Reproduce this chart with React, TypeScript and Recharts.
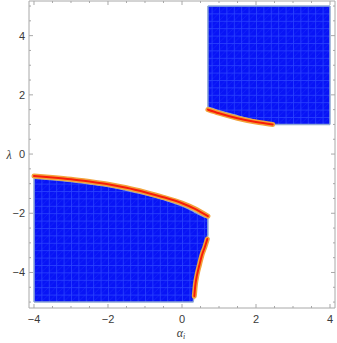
import React from 'react';
import { ComposedChart, Area, Line, XAxis, YAxis } from 'recharts';

// Upper-right region: alpha, lower boundary (upper boundary = 5)
const upperAlpha = [0.7, 1.0, 1.5, 2.0, 2.25, 2.5, 4.0];
const upperLow = [1.58, 1.46, 1.29, 1.13, 1.05, 1.0, 1.0];
const upperHigh = [5, 5, 5, 5, 5, 5, 5];

// Lower-left region: alpha, lower and upper boundary
const lowerAlpha = [-4, -3.5, -3, -2.5, -2, -1.5, -1, -0.5, 0, 0.3, 0.33, 0.37, 0.43, 0.5, 0.58, 0.65, 0.7];
const lowerLow = [-5, -5, -5, -5, -5, -5, -5, -5, -5, -5, -4.7, -4.35, -4.0, -3.68, -3.35, -3.02, -2.74];
const lowerHigh = [-0.82, -0.87, -0.93, -1.01, -1.1, -1.22, -1.37, -1.54, -1.75, -1.93, -1.95, -1.98, -2.02, -2.06, -2.11, -2.14, -2.17];

// Region outline segments (vertical edges)
const edgeAlpha = [0.7, 0.7, 4, 4, -4, -4, 0.7, 0.7];
const edgeLambda = [1.58, 5, 1.0, 5, -5, -0.82, -2.74, -2.17];

// Boundary curves (red/orange)
const curve1Alpha = [0.7, 1.0, 1.5, 2.0, 2.45];
const curve1Lambda = [1.5, 1.38, 1.21, 1.08, 1.0];
const curve2Alpha = [-4, -3.5, -3, -2.5, -2, -1.5, -1, -0.5, 0, 0.35, 0.7];
const curve2Lambda = [-0.74, -0.79, -0.85, -0.93, -1.02, -1.14, -1.29, -1.46, -1.66, -1.85, -2.1];
const curve3Alpha = [0.333, 0.36, 0.405, 0.47, 0.54, 0.62, 0.685];
const curve3Lambda = [-4.8, -4.43, -4.09, -3.75, -3.41, -3.13, -2.87];

const xTicks = [-4, -3.5, -3, -2.5, -2, -1.5, -1, -0.5, 0, 0.5, 1, 1.5, 2, 2.5, 3, 3.5, 4];
const yTicks = [-5, -4.5, -4, -3.5, -3, -2.5, -2, -1.5, -1, -0.5, 0, 0.5, 1, 1.5, 2, 2.5, 3, 3.5, 4, 4.5, 5];
const majorLabels = [-4, -2, 0, 2, 4];

const upperData = upperAlpha.map((a, i) => ({ a, r: [upperLow[i], upperHigh[i]] }));
const lowerData = lowerAlpha.map((a, i) => ({ a, r: [lowerLow[i], lowerHigh[i]] }));
const edges = [0, 1, 2, 3].map((k) => [
  { a: edgeAlpha[2 * k], v: edgeLambda[2 * k] },
  { a: edgeAlpha[2 * k + 1], v: edgeLambda[2 * k + 1] },
]);
const curve1 = curve1Alpha.map((a, i) => ({ a, v: curve1Lambda[i] }));
const curve2 = curve2Alpha.map((a, i) => ({ a, v: curve2Lambda[i] }));
const curve3 = curve3Alpha.map((a, i) => ({ a, v: curve3Lambda[i] }));

const FRAME = '#a8a8a8';
const LABEL = '#3a3a3a';
const FONT = 'Liberation Sans, Arial, sans-serif';
const EDGE = '#8ea8d4';

const fmt = (v: number) => (v < 0 ? '\u2212' + Math.abs(v) : String(v));
const isMajor = (v: number) => majorLabels.includes(v);

const BottomTick = (props: any) => {
  const { x, y, payload } = props;
  const v = payload.value;
  const major = isMajor(v);
  return (
    <g>
      <line x1={x} y1={y} x2={x} y2={y - (major ? 4 : 2)} stroke={FRAME} strokeWidth={1} />
      {major && (
        <text x={x} y={y + 15} textAnchor="middle" fontSize={11} fontFamily={FONT} fill={LABEL}>
          {fmt(v)}
        </text>
      )}
    </g>
  );
};
const TopTick = (props: any) => {
  const { x, y, payload } = props;
  const major = isMajor(payload.value);
  return <line x1={x} y1={y} x2={x} y2={y + (major ? 4 : 2)} stroke={FRAME} strokeWidth={1} />;
};
const LeftTick = (props: any) => {
  const { x, y, payload } = props;
  const v = payload.value;
  const major = isMajor(v);
  return (
    <g>
      <line x1={x} y1={y} x2={x + (major ? 4 : 2)} y2={y} stroke={FRAME} strokeWidth={1} />
      {major && (
        <text x={x - 4} y={y + 4} textAnchor="end" fontSize={11} fontFamily={FONT} fill={LABEL}>
          {fmt(v)}
        </text>
      )}
    </g>
  );
};
const RightTick = (props: any) => {
  const { x, y, payload } = props;
  const major = isMajor(payload.value);
  return <line x1={x} y1={y} x2={x - (major ? 4 : 2)} y2={y} stroke={FRAME} strokeWidth={1} />;
};

const XLabel = (props: any) => {
  const vb = props.viewBox || { x: 29, y: 308, width: 306, height: 35 };
  return (
    <text x={vb.x + vb.width / 2 - 1} y={vb.y + 29} textAnchor="middle" fontSize={12} fontFamily="Liberation Serif, serif" fontStyle="italic" fill={LABEL}>
      α<tspan fontSize={8} dy={2}>i</tspan>
    </text>
  );
};
const YLabel = (props: any) => {
  const vb = props.viewBox || { x: 0, y: 1, width: 29, height: 307 };
  return (
    <text x={9} y={vb.y + vb.height / 2 + 4} textAnchor="middle" fontSize={12} fontFamily="Liberation Serif, serif" fontStyle="italic" fill={LABEL}>
      λ
    </text>
  );
};

export default function App() {
  const curves = [curve1, curve2, curve3];
  return (
    <div style={{ position: 'absolute', left: 0, top: 0, background: '#fff' }}>
      <ComposedChart width={337} height={343} margin={{ top: 0, right: 1, bottom: 0, left: 0 }}>
        <defs>
          <pattern id="mesh" patternUnits="userSpaceOnUse" x={34} y={6} width={7.4} height={7.4}>
            <rect x={0} y={0} width={7.4} height={7.4} fill="#0814f6" />
            <path d="M0 0.4 H7.4 M0.4 0 V7.4" stroke="#3552ff" strokeWidth={0.9} opacity={0.7} />
            <path d="M0 7.4 L7.4 0" stroke="#2a44ff" strokeWidth={0.6} opacity={0.45} />
          </pattern>
        </defs>
        <XAxis
          xAxisId="b"
          dataKey="a"
          type="number"
          orientation="bottom"
          domain={[-4.135, 4.135]}
          allowDataOverflow
          ticks={xTicks}
          interval={0}
          height={35}
          tickSize={0}
          tickMargin={0}
          tickLine={false}
          axisLine={{ stroke: FRAME }}
          tick={<BottomTick />}
          label={{ content: <XLabel /> } as any}
        />
        <XAxis
          xAxisId="t"
          dataKey="a"
          type="number"
          orientation="top"
          domain={[-4.135, 4.135]}
          allowDataOverflow
          ticks={xTicks}
          interval={0}
          height={1}
          tickSize={0}
          tickMargin={0}
          tickLine={false}
          axisLine={{ stroke: FRAME }}
          tick={<TopTick />}
        />
        <YAxis
          yAxisId="l"
          type="number"
          orientation="left"
          domain={[-5.2, 5.17]}
          allowDataOverflow
          ticks={yTicks}
          interval={0}
          width={29}
          tickSize={0}
          tickMargin={0}
          tickLine={false}
          axisLine={{ stroke: FRAME }}
          tick={<LeftTick />}
          label={{ content: <YLabel /> } as any}
        />
        <YAxis
          yAxisId="r"
          type="number"
          orientation="right"
          domain={[-5.2, 5.17]}
          allowDataOverflow
          ticks={yTicks}
          interval={0}
          width={1}
          tickSize={0}
          tickMargin={0}
          tickLine={false}
          axisLine={{ stroke: FRAME }}
          tick={<RightTick />}
        />
        <Area
          xAxisId="b"
          yAxisId="l"
          data={upperData}
          dataKey="r"
          type="monotone"
          fill="url(#mesh)"
          fillOpacity={1}
          stroke={EDGE}
          strokeWidth={1.5}
          isAnimationActive={false}
          dot={false}
          activeDot={false}
        />
        <Area
          xAxisId="b"
          yAxisId="l"
          data={lowerData}
          dataKey="r"
          type="monotone"
          fill="url(#mesh)"
          fillOpacity={1}
          stroke={EDGE}
          strokeWidth={1.5}
          isAnimationActive={false}
          dot={false}
          activeDot={false}
        />
        {edges.map((e, i) => (
          <Line
            key={'e' + i}
            xAxisId="b"
            yAxisId="l"
            data={e}
            dataKey="v"
            type="linear"
            stroke={EDGE}
            strokeWidth={1.5}
            dot={false}
            activeDot={false}
            isAnimationActive={false}
          />
        ))}
        {curves.map((c, i) => (
          <Line
            key={'o' + i}
            xAxisId="b"
            yAxisId="l"
            data={c}
            dataKey="v"
            type="monotone"
            stroke="#f2a33a"
            strokeWidth={5}
            strokeLinecap="round"
            dot={false}
            activeDot={false}
            isAnimationActive={false}
          />
        ))}
        {curves.map((c, i) => (
          <Line
            key={'r' + i}
            xAxisId="b"
            yAxisId="l"
            data={c}
            dataKey="v"
            type="monotone"
            stroke="#f81c08"
            strokeWidth={2}
            strokeLinecap="round"
            dot={false}
            activeDot={false}
            isAnimationActive={false}
          />
        ))}
      </ComposedChart>
    </div>
  );
}
